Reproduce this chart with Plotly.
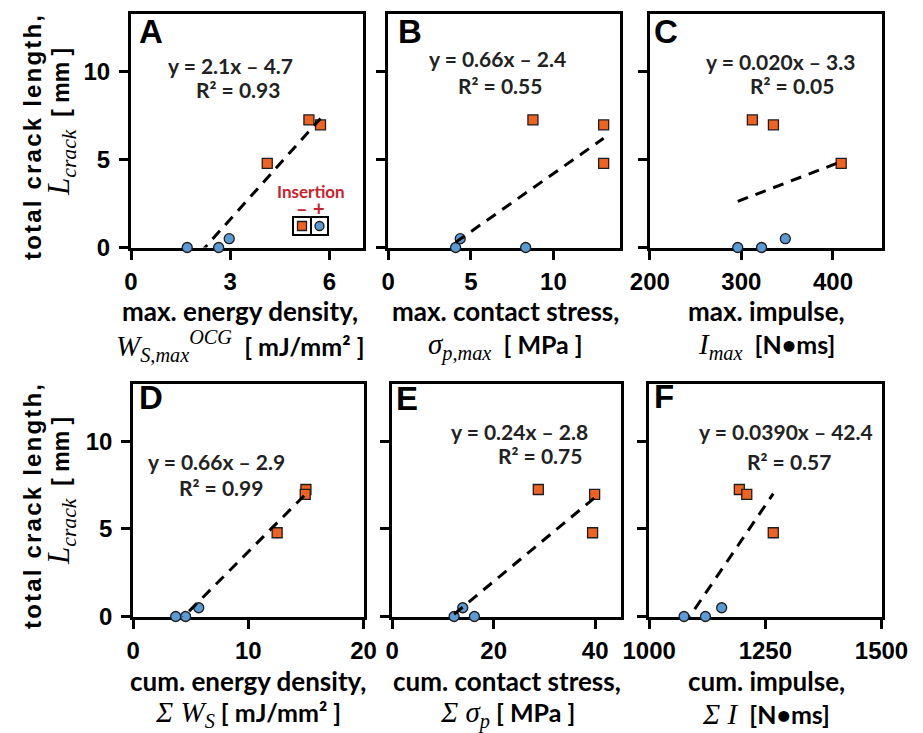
import plotly.graph_objects as go

W, H = 923, 733

# ---------------- data ----------------
# total crack length of the specimens (same specimens in every panel)
crack_minus = [4.78, 7.25, 6.97]   # insertion "−"  (orange squares)
crack_plus = [0.0, 0.0, 0.5]       # insertion "+"  (blue circles)

# x-values of the specimens, one pair of lists per panel
wsmax_minus = [4.12, 5.38, 5.73]
wsmax_plus = [1.70, 2.65, 2.97]
sigmax_minus = [13.04, 8.76, 13.04]
sigmax_plus = [4.08, 8.32, 4.36]
imax_minus = [409, 312, 335]
imax_plus = [296, 322, 348]
wscum_minus = [12.5, 15.0, 14.94]
wscum_plus = [3.69, 4.55, 5.69]
sigcum_minus = [39.5, 28.8, 39.9]
sigcum_plus = [12.2, 16.2, 13.9]
icum_minus = [1267, 1194, 1210]
icum_plus = [1075, 1121, 1156]

# linear fits shown in each panel
fit_slope = ["2.1", "0.66", "0.020", "0.66", "0.24", "0.0390"]
fit_intercept = ["4.7", "2.4", "3.3", "2.9", "2.8", "42.4"]   # subtracted
fit_r2 = ["0.93", "0.55", "0.05", "0.99", "0.75", "0.57"]

panel_letters = ["A", "B", "C", "D", "E", "F"]
x_tickvals = [[0, 3, 6], [0, 5, 10], [200, 300, 400],
              [0, 10, 20], [0, 20, 40], [1000, 1250, 1500]]
x_ranges = [[0, 7], [0, 14], [200, 453], [0, 20], [0, 45], [1000, 1500]]
y_tickvals = [0, 5, 10]
y_range = [0, 13.3]

x_title_line1 = ["max. energy density,", "max. contact stress,", "max. impulse,",
                 "cum. energy density,", "cum. contact stress,", "cum. impulse,"]
SER = "<span style=\"font-family:'Liberation Serif',serif;font-style:italic;font-weight:normal;font-size:29px\">"
x_title_line2 = [
    SER + "W<sub>S,max</sub><sup>OCG</sup></span>  [ mJ/mm² ]",
    SER + "σ<sub>p,max</sub></span>  [ MPa ]",
    SER + "I<sub>max</sub></span>  [N•ms]",
    SER + "Σ W<sub>S</sub></span> [ mJ/mm² ]",
    SER + "Σ σ<sub>p</sub></span> [ MPa ]",
    SER + "Σ I</span>  [N•ms]",
]

series_x = [(wsmax_minus, wsmax_plus), (sigmax_minus, sigmax_plus), (imax_minus, imax_plus),
            (wscum_minus, wscum_plus), (sigcum_minus, sigcum_plus), (icum_minus, icum_plus)]

# ---------------- layout geometry (pixels) ----------------
boxes = [(129.5, 364, 12, 249), (386.7, 621, 12, 249), (648.3, 883, 12, 249),
         (131.7, 365, 382, 618), (390.7, 622, 382, 618), (647.7, 883, 382, 618)]
eq_pos = [((230, 66), (238, 90)), ((497, 58), (500, 85)), ((780, 61), (792, 85)),
          ((216, 462), (221, 487)), ((519, 431), (540, 456)), ((786, 432), (789, 461))]
letter_pos = [(137, 31), (396, 31), (652, 31), (137, 397), (394, 398), (652, 396)]
xt_center = [240, 505, 766, 248, 507, 766]
xt_rows = [(311, 346), (311, 346), (311, 346), (681, 714), (681, 714), (681, 714)]

SQ_COLOR = "#F0621F"
CI_COLOR = "#5B9BD5"
EDGE = "#1e1e1e"
TICKFONT = dict(family="Liberation Sans, Arial", size=24, color="black", weight="bold")
SANS = "Lato, Liberation Sans"


def px(x):
    return x / W


def py(y):
    return 1 - y / H


fig = go.Figure()
annotations = []
shapes = []
lay = {}

for i in range(6):
    n = "" if i == 0 else str(i + 1)
    xa, ya = "x" + n, "y" + n
    l, r, t, b = boxes[i]
    lay["xaxis" + n] = dict(
        domain=[px(l + 1.5), px(r - 1.5)], anchor=ya, range=x_ranges[i],
        tickvals=x_tickvals[i], ticks="outside", ticklen=9, tickwidth=3, tickcolor="black",
        showline=True, linewidth=3, linecolor="black", mirror=True, automargin=False,
        showgrid=False, zeroline=False, tickfont=TICKFONT, layer="below traces",
        ticklabelstandoff=2, fixedrange=True)
    lay["yaxis" + n] = dict(
        domain=[py(b - 1.5), py(t + 1.5)], anchor=xa, range=y_range,
        tickvals=y_tickvals, ticks="outside", ticklen=9, tickwidth=3, tickcolor="black",
        showline=True, linewidth=3, linecolor="black", mirror=True, automargin=False,
        showgrid=False, zeroline=False, tickfont=TICKFONT, layer="below traces",
        showticklabels=(i % 3 == 0), ticklabelstandoff=4, fixedrange=True)

    xm, xp = series_x[i]
    fig.add_trace(go.Scatter(
        x=xm, y=crack_minus, mode="markers", xaxis=xa, yaxis=ya, cliponaxis=False,
        marker=dict(symbol="square", size=10, color=SQ_COLOR, line=dict(width=1.3, color=EDGE)),
        showlegend=False, hoverinfo="skip"))
    fig.add_trace(go.Scatter(
        x=xp, y=crack_plus, mode="markers", xaxis=xa, yaxis=ya, cliponaxis=False,
        marker=dict(symbol="circle", size=10, color=CI_COLOR, line=dict(width=1.3, color=EDGE)),
        showlegend=False, hoverinfo="skip"))

    # fitted line over the data range
    allx = list(xm) + list(xp)
    m = float(fit_slope[i])
    c = -float(fit_intercept[i])
    x0, x1 = min(allx), max(allx)
    fig.add_trace(go.Scatter(
        x=[x0, x1], y=[m * x0 + c, m * x1 + c], mode="lines", xaxis=xa, yaxis=ya,
        line=dict(color="black", width=3, dash="11px,8px"), showlegend=False,
        hoverinfo="skip"))

    # equation text
    (ex, ey), (rx, ry) = eq_pos[i]
    annotations.append(dict(text="y = %sx – %s" % (fit_slope[i], fit_intercept[i]),
                            x=px(ex), y=py(ey), xref="paper", yref="paper", showarrow=False,
                            xanchor="center", yanchor="middle",
                            font=dict(family=SANS, size=21, color="#222222", weight="bold")))
    annotations.append(dict(text="R² = %s" % fit_r2[i],
                            x=px(rx), y=py(ry), xref="paper", yref="paper", showarrow=False,
                            xanchor="center", yanchor="middle",
                            font=dict(family=SANS, size=21, color="#222222", weight="bold")))
    # panel letter
    lx, ly = letter_pos[i]
    annotations.append(dict(text=panel_letters[i], x=px(lx), y=py(ly), xref="paper", yref="paper",
                            showarrow=False, xanchor="left", yanchor="middle",
                            font=dict(family="Liberation Sans, Arial", size=33, color="black",
                                      weight="bold")))
    # x titles
    r1, r2 = xt_rows[i]
    annotations.append(dict(text=x_title_line1[i], x=px(xt_center[i]), y=py(r1), xref="paper",
                            yref="paper", showarrow=False, xanchor="center", yanchor="middle",
                            font=dict(family=SANS, size=26, color="black", weight="bold")))
    annotations.append(dict(text=x_title_line2[i], x=px(xt_center[i]), y=py(r2), xref="paper",
                            yref="paper", showarrow=False, xanchor="center", yanchor="middle",
                            font=dict(family=SANS, size=25, color="black", weight="bold")))

# y titles (both rows)
for (c1, c2) in [(137, 122), (506, 491)]:
    annotations.append(dict(text="<span style='letter-spacing:2.2px'>total crack length,</span>",
                            x=px(32), y=py(c1), xref="paper", yref="paper",
                            showarrow=False, xanchor="center", yanchor="middle", textangle=-90,
                            font=dict(family="Liberation Sans, Arial", size=24, color="black",
                                      weight="bold")))
    annotations.append(dict(
        text=("<span style=\"font-family:'Liberation Serif',serif;font-style:italic;"
              "font-weight:normal;font-size:31px\">L<sub>crack</sub></span>  [ mm ]"),
        x=px(61), y=py(c2), xref="paper", yref="paper", showarrow=False,
        xanchor="center", yanchor="middle", textangle=-90,
        font=dict(family="Liberation Sans, Arial", size=23, color="black", weight="bold")))

# inset legend in panel A
RED = "#C8232C"
annotations.append(dict(text="Insertion", x=px(311), y=py(191), xref="paper", yref="paper",
                        showarrow=False, xanchor="center", yanchor="middle",
                        font=dict(family=SANS, size=17, color=RED, weight="bold")))
annotations.append(dict(text="–", x=px(302), y=py(208), xref="paper", yref="paper",
                        showarrow=False, xanchor="center", yanchor="middle",
                        font=dict(family=SANS, size=20, color=RED, weight="bold")))
annotations.append(dict(text="+", x=px(319), y=py(208), xref="paper", yref="paper",
                        showarrow=False, xanchor="center", yanchor="middle",
                        font=dict(family=SANS, size=20, color=RED, weight="bold")))
shapes.append(dict(type="rect", xref="paper", yref="paper", x0=px(293), x1=px(311),
                   y0=py(235), y1=py(217), line=dict(color="black", width=2)))
shapes.append(dict(type="rect", xref="paper", yref="paper", x0=px(311), x1=px(328),
                   y0=py(235), y1=py(217), line=dict(color="black", width=2)))
shapes.append(dict(type="rect", xref="paper", yref="paper", x0=px(297.5), x1=px(306.5),
                   y0=py(230.5), y1=py(221.5), fillcolor=SQ_COLOR,
                   line=dict(color=EDGE, width=1.3)))
shapes.append(dict(type="circle", xref="paper", yref="paper", x0=px(315), x1=px(324),
                   y0=py(230.5), y1=py(221.5), fillcolor=CI_COLOR,
                   line=dict(color=EDGE, width=1.3)))

fig.update_layout(
    width=W, height=H, margin=dict(l=0, r=0, t=0, b=0, autoexpand=False),
    paper_bgcolor="white", plot_bgcolor="white", hovermode=False,
    annotations=annotations, shapes=shapes, showlegend=False, **lay)

fig.write_html("out.html", config={"displayModeBar": False},
               post_script="document.body.style.margin='0px';document.body.style.overflow='hidden';")
